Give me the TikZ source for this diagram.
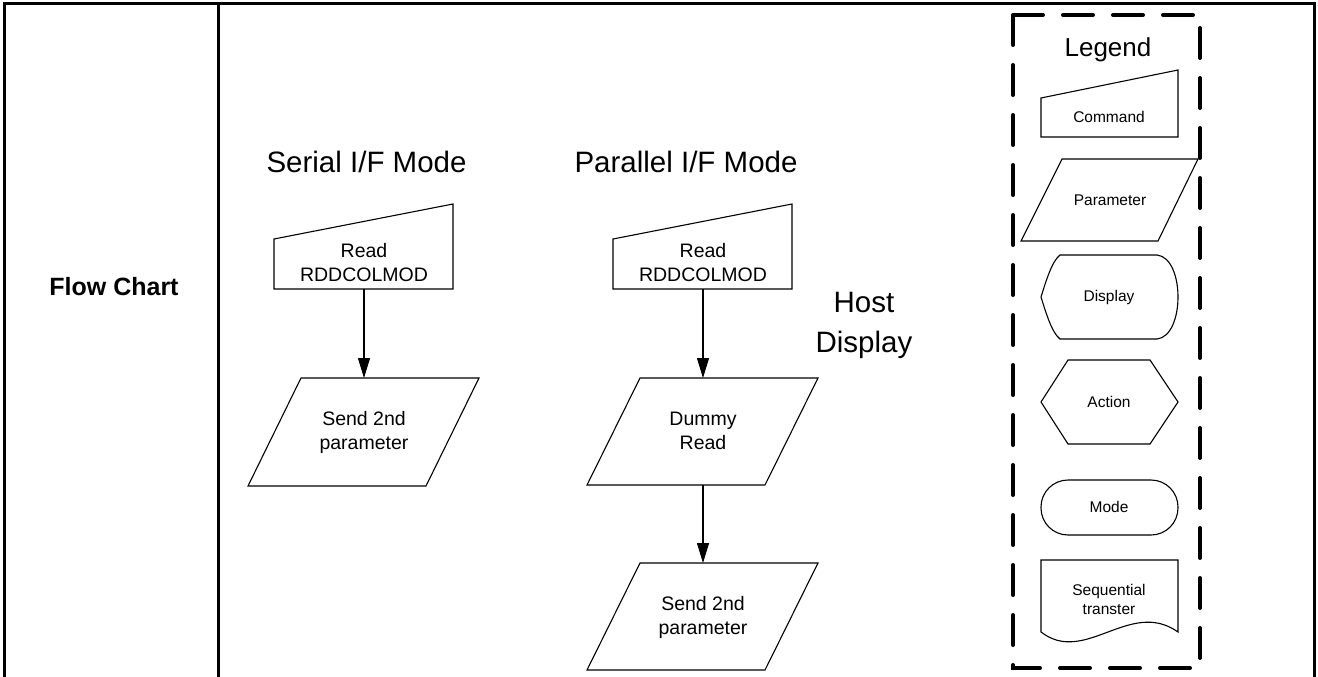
\documentclass[tikz,border=0pt]{standalone}
\usepackage{fontspec}
\setmainfont{Liberation Sans}
\usetikzlibrary{arrows.meta}
\begin{document}
\begin{tikzpicture}[x=1pt,y=-1pt,
  frame/.style={line width=3pt},
  shp/.style={draw,line width=1.1pt},
  flow/.style={line width=1.1pt,-{Triangle[width=12pt,length=20pt]}},
  title/.style={font=\fontsize{29.5}{40}\selectfont},
  boxtext/.style={font=\fontsize{19.5}{24}\selectfont,align=center},
  legtext/.style={font=\fontsize{15.5}{19}\selectfont,align=center},
  legbox/.style={line width=4pt,dash pattern=on 30pt off 20pt,line cap=round}]
\useasboundingbox (0,0) rectangle (1318,677);
% table frame
\draw[frame] (4,680) -- (4,4) -- (1314,4) -- (1314,680);
\draw[frame] (218,4) -- (218,680);
\node[font=\bfseries\fontsize{25}{29}\selectfont] (fc) at (114,287) {Flow Chart};
% titles
\node[title,anchor=base west] (t1) at (263,172) {Serial I/F Mode};
\node[title,anchor=base west] (t2) at (571,172) {Parallel I/F Mode};
\node[title,align=center] (hd) at (864,325) {Host\\Display};
% serial flow
\draw[shp] (274,239) -- (453,204) -- (453,289) -- (274,289) -- cycle;
\node[boxtext] (c1) at (364,263) {Read\\RDDCOLMOD};
\coordinate (c1b) at (364,289);
\draw[shp] (301,378) -- (479,378) -- (426,486) -- (248,486) -- cycle;
\node[boxtext] (p1) at (364,432) {Send 2nd\\parameter};
\coordinate (p1t) at (364,378);
\draw[flow] (c1b) -- (p1t);
% parallel flow
\draw[shp] (613,239) -- (792,204) -- (792,289) -- (613,289) -- cycle;
\node[boxtext] (c2) at (703,263) {Read\\RDDCOLMOD};
\coordinate (c2b) at (703,289);
\draw[shp] (640,378) -- (818,378) -- (765,485) -- (587,485) -- cycle;
\node[boxtext] (d2) at (703,431) {Dummy\\Read};
\coordinate (d2t) at (703,378);
\coordinate (d2b) at (703,485);
\draw[shp] (640,563) -- (818,563) -- (765,670) -- (587,670) -- cycle;
\node[boxtext] (p2) at (703,617) {Send 2nd\\parameter};
\coordinate (p2t) at (703,563);
\draw[flow] (c2b) -- (d2t);
\draw[flow] (d2b) -- (p2t);
% legend
\draw[legbox] (1013,15) rectangle (1200,668);
\node[font=\fontsize{26}{30}\selectfont,anchor=base] (lg) at (1108,57) {Legend};
\draw[shp] (1041,98) -- (1178,70) -- (1178,137) -- (1041,137) -- cycle;
\node[legtext] (lc) at (1109,117) {Command};
\draw[shp] (1062,159) -- (1198,159) -- (1158,241) -- (1021,241) -- cycle;
\node[legtext] (lp) at (1110,200) {Parameter};
\draw[shp] (1060,255) -- (1157,255) .. controls (1185,258) and (1185,336) .. (1157,339)
  -- (1060,339) .. controls (1052,333) and (1046,313) .. (1041,297)
  .. controls (1046,281) and (1052,261) .. (1060,255) -- cycle;
\node[legtext] (ld) at (1109,297) {Display};
\draw[shp] (1041,402) -- (1068,360) -- (1150,360) -- (1178,402) -- (1150,444) -- (1068,444) -- cycle;
\node[legtext] (la) at (1109,402) {Action};
\draw[shp,rounded corners=27pt] (1041,480) rectangle (1178,535);
\node[legtext] (lm) at (1109,507) {Mode};
\draw[shp] (1041,632) -- (1041,560) -- (1178,560) -- (1178,632)
  .. controls (1130,598) and (1085,666) .. (1041,632) -- cycle;
\node[legtext] (ls) at (1109,599) {Sequential\\transter};
\end{tikzpicture}
\end{document}
